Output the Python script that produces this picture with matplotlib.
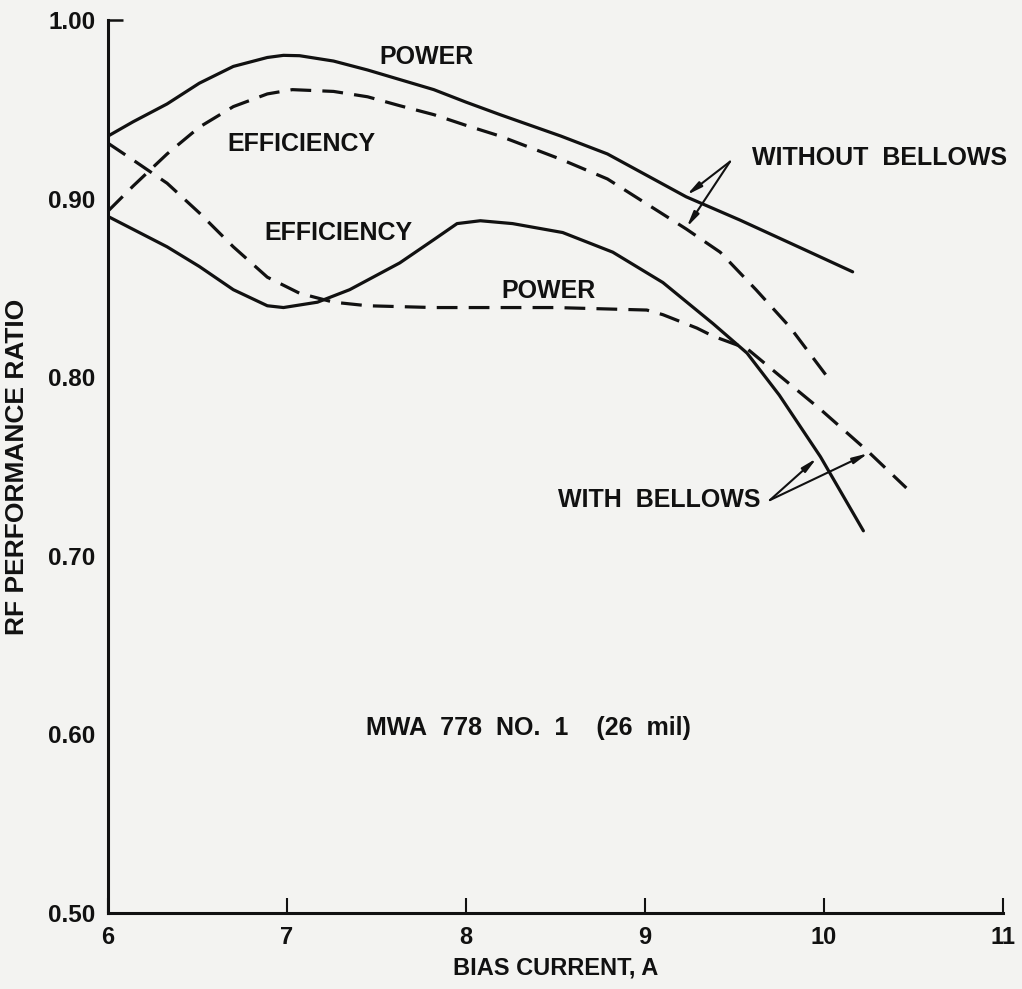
import matplotlib
matplotlib.use("Agg")
import matplotlib.pyplot as plt

# ---- data ----
x_pow_wo = [6.00, 6.14, 6.33, 6.51, 6.70, 6.89, 6.98, 7.07, 7.26, 7.45, 7.82, 8.00, 8.19, 8.53, 8.79, 9.23, 9.53, 9.90, 10.16]
y_pow_wo = [0.935, 0.943, 0.953, 0.9646, 0.974, 0.979, 0.9802, 0.980, 0.977, 0.972, 0.961, 0.954, 0.947, 0.935, 0.925, 0.901, 0.888, 0.871, 0.859]

x_eff_wo = [6.00, 6.14, 6.33, 6.51, 6.70, 6.89, 7.03, 7.26, 7.45, 7.63, 7.82, 8.00, 8.19, 8.53, 8.79, 9.23, 9.42, 9.62, 9.81, 10.02]
y_eff_wo = [0.893, 0.907, 0.925, 0.940, 0.9515, 0.9586, 0.961, 0.960, 0.957, 0.952, 0.947, 0.941, 0.935, 0.922, 0.911, 0.883, 0.870, 0.849, 0.828, 0.800]

x_eff_wb = [6.00, 6.33, 6.51, 6.70, 6.89, 6.98, 7.17, 7.35, 7.63, 7.82, 7.95, 8.08, 8.26, 8.54, 8.82, 9.10, 9.38, 9.57, 9.75, 9.98, 10.22]
y_eff_wb = [0.890, 0.873, 0.862, 0.849, 0.840, 0.839, 0.842, 0.849, 0.864, 0.877, 0.886, 0.8876, 0.886, 0.881, 0.870, 0.853, 0.830, 0.8135, 0.790, 0.7555, 0.714]

x_pow_wb = [6.00, 6.14, 6.33, 6.51, 6.70, 6.89, 7.07, 7.26, 7.45, 7.82, 8.50, 9.01, 9.10, 9.29, 9.38, 9.57, 9.75, 9.98, 10.24, 10.46]
y_pow_wb = [0.931, 0.9216, 0.9086, 0.892, 0.873, 0.856, 0.847, 0.842, 0.840, 0.839, 0.839, 0.8376, 0.835, 0.8275, 0.823, 0.816, 0.801, 0.782, 0.759, 0.738]

x_ticks = [6, 7, 8, 9, 10, 11]
x_ticklabels = ["6", "7", "8", "9", "10", "11"]
y_ticks = [0.50, 0.60, 0.70, 0.80, 0.90, 1.00]
y_ticklabels = ["0.50", "0.60", "0.70", "0.80", "0.90", "1.00"]

BG = "#f3f3f1"
INK = "#111111"
FONT = ["Liberation Sans", "DejaVu Sans"]

fig = plt.figure(figsize=(10.22, 9.89), dpi=100, facecolor=BG)
ax = fig.add_axes([0.1057, 0.0768, 0.8757, 0.9030])
ax.set_facecolor(BG)

lw = 2.3
dash = (6.5, 3.5)
ax.plot(x_pow_wo, y_pow_wo, color=INK, lw=lw, solid_capstyle="round", solid_joinstyle="round")
ax.plot(x_eff_wo, y_eff_wo, color=INK, lw=lw, dashes=dash)
ax.plot(x_eff_wb, y_eff_wb, color=INK, lw=lw, solid_capstyle="round", solid_joinstyle="round")
ax.plot(x_pow_wb, y_pow_wb, color=INK, lw=lw, dashes=dash)

ax.set_xlim(6, 11)
ax.set_ylim(0.50, 1.00)
ax.set_xticks(x_ticks)
ax.set_xticklabels(x_ticklabels, fontfamily=FONT, fontweight="bold", fontsize=17)
ax.set_yticks(y_ticks)
ax.set_yticklabels(y_ticklabels, fontfamily=FONT, fontweight="bold", fontsize=17.5)
ax.tick_params(axis="x", direction="in", length=11, width=1.5, pad=9, colors=INK)
ax.tick_params(axis="y", direction="in", length=0, width=1.8, pad=9, colors=INK)
top_tick = ax.yaxis.get_major_ticks()[-1]
top_tick.tick1line.set_markersize(11)

for s in ["top", "right"]:
    ax.spines[s].set_visible(False)
for s in ["left", "bottom"]:
    ax.spines[s].set_linewidth(2.2)
    ax.spines[s].set_color(INK)

ax.set_xlabel("BIAS CURRENT, A", fontfamily=FONT, fontweight="bold", fontsize=17, labelpad=6, color=INK)
ax.set_ylabel("RF PERFORMANCE RATIO", fontfamily=FONT, fontweight="bold", fontsize=19, color=INK)
ax.yaxis.set_label_coords(-0.088, 0.5)

fs = 18
tk = dict(fontfamily=FONT, fontweight="bold", fontsize=fs, color=INK, ha="center", va="center")
ax.text(7.78, 0.979, "POWER", **tk)
ax.text(7.08, 0.9306, "EFFICIENCY", **tk)
ax.text(7.29, 0.881, "EFFICIENCY", **tk)
ax.text(8.46, 0.848, "POWER", **tk)
ax.text(8.35, 0.6036, "MWA  778  NO.  1    (26  mil)", **tk)
ax.text(9.598, 0.9225, "WITHOUT  BELLOWS", fontfamily=FONT, fontweight="bold", fontsize=fs,
        color=INK, ha="left", va="center")
ax.text(9.645, 0.7312, "WITH  BELLOWS", fontfamily=FONT, fontweight="bold", fontsize=fs,
        color=INK, ha="right", va="center")

arrow = dict(arrowstyle="-|>,head_length=0.9,head_width=0.18", color=INK, lw=1.5,
             shrinkA=0, shrinkB=0)
ax.annotate("", xy=(9.233, 0.902), xytext=(9.475, 0.9207), arrowprops=arrow)
ax.annotate("", xy=(9.233, 0.884), xytext=(9.475, 0.9207), arrowprops=arrow)
ax.annotate("", xy=(9.959, 0.7546), xytext=(9.698, 0.7312), arrowprops=arrow)
ax.annotate("", xy=(10.247, 0.7574), xytext=(9.698, 0.7312), arrowprops=arrow)

fig.savefig("out.png", dpi=100, facecolor=BG)
